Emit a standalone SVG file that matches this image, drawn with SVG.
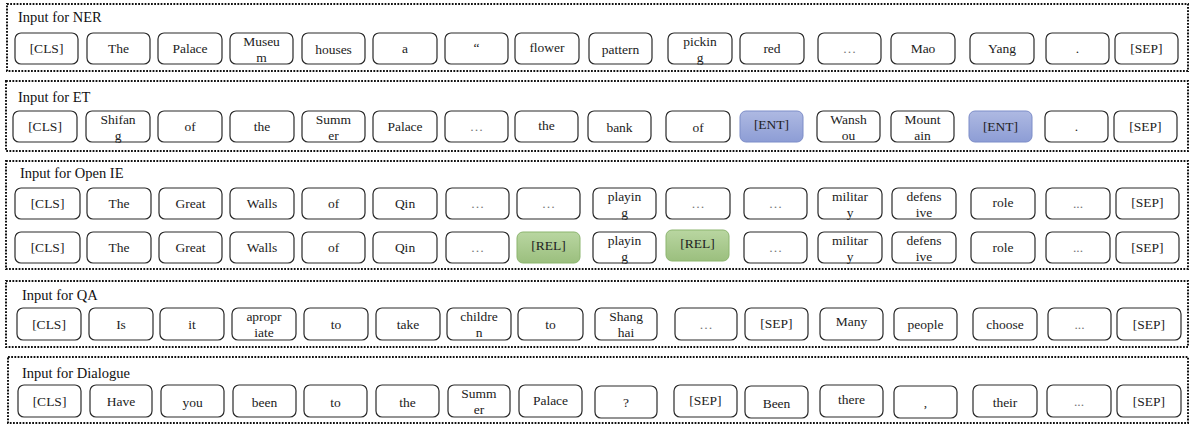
<svg xmlns="http://www.w3.org/2000/svg" width="1192" height="425" viewBox="0 0 1192 425">
<defs>
<linearGradient id="gEnt" x1="0" y1="0" x2="0" y2="1"><stop offset="0" stop-color="#aeb9e2"/><stop offset="1" stop-color="#8d9dd5"/></linearGradient>
<linearGradient id="gRel" x1="0" y1="0" x2="0" y2="1"><stop offset="0" stop-color="#b9d6a1"/><stop offset="1" stop-color="#9bbf7e"/></linearGradient>
<style>
.panel{fill:none;stroke:#111;stroke-width:2;stroke-dasharray:1.8 1.4}
.title{font-family:"Liberation Serif","Times New Roman",Tinos,"DejaVu Serif","Noto Serif",serif;font-size:14.5px;fill:#111}
.b{fill:#fff;stroke:#2a2a2a;stroke-width:1.2}
.ent{fill:url(#gEnt);stroke:#7d8dc8;stroke-width:1}
.rel{fill:url(#gRel);stroke:#8cb56f;stroke-width:1}
.t{font-family:"Liberation Serif","Times New Roman",Tinos,"DejaVu Serif","Noto Serif",serif;font-size:13.5px;fill:#222;text-anchor:middle}
.d{fill:#777}
</style>
</defs>
<g id="panels">
<rect id="panel-ner" class="panel" x="7" y="4" width="1181" height="67"/>
<rect id="panel-et" class="panel" x="6" y="81" width="1182" height="70"/>
<rect id="panel-openie" class="panel" x="6" y="161" width="1182" height="108"/>
<rect id="panel-qa" class="panel" x="6" y="281" width="1182" height="66"/>
<rect id="panel-dialogue" class="panel" x="8" y="357" width="1180" height="66"/>
<text class="title" x="18" y="22">Input for NER</text>
<text class="title" x="18" y="102">Input for ET</text>
<text class="title" x="20" y="178">Input for Open IE</text>
<text class="title" x="22" y="300">Input for QA</text>
<text class="title" x="22" y="378">Input for Dialogue</text>
</g>
<g id="connectors"></g>

<g id="ner">
<g id="ner1"><rect class="b" x="15" y="33" width="63" height="31" rx="6"/><text class="t" x="46.5" y="53">[CLS]</text></g>
<g id="ner2"><rect class="b" x="87" y="33" width="63" height="31" rx="6"/><text class="t" x="118.5" y="53">The</text></g>
<g id="ner3"><rect class="b" x="158" y="33" width="64" height="31" rx="6"/><text class="t" x="190" y="53">Palace</text></g>
<g id="ner4"><rect class="b" x="230" y="33" width="63" height="31" rx="6"/><text class="t" x="261.5" y="46">Museu</text><text class="t" x="261.5" y="62">m</text></g>
<g id="ner5"><rect class="b" x="302" y="33" width="63" height="31" rx="6"/><text class="t" x="333.5" y="54">houses</text></g>
<g id="ner6"><rect class="b" x="373" y="33" width="64" height="31" rx="6"/><text class="t" x="405" y="53">a</text></g>
<g id="ner7"><rect class="b" x="445" y="33" width="63" height="31" rx="6"/><text class="t" x="476.5" y="52">“</text></g>
<g id="ner8"><rect class="b" x="515" y="33" width="64" height="31" rx="6"/><text class="t" x="547" y="52">flower</text></g>
<g id="ner9"><rect class="b" x="589" y="33" width="63" height="31" rx="6"/><text class="t" x="620.5" y="54">pattern</text></g>
<g id="ner10"><rect class="b" x="668" y="33" width="64" height="31" rx="6"/><text class="t" x="700" y="46">pickin</text><text class="t" x="700" y="62">g</text></g>
<g id="ner11"><rect class="b" x="740" y="33" width="64" height="31" rx="6"/><text class="t" x="772" y="53">red</text></g>
<g id="ner12"><rect class="b" x="818" y="33" width="63" height="31" rx="6"/><text class="t d" x="849.5" y="53">…</text></g>
<g id="ner13"><rect class="b" x="891" y="33" width="64" height="31" rx="6"/><text class="t" x="923" y="53">Mao</text></g>
<g id="ner14"><rect class="b" x="970" y="33" width="64" height="31" rx="6"/><text class="t" x="1002" y="53">Yang</text></g>
<g id="ner15"><rect class="b" x="1046" y="33" width="63" height="31" rx="6"/><text class="t" x="1077.5" y="53">.</text></g>
<g id="ner16"><rect class="b" x="1115" y="33" width="63" height="31" rx="6"/><text class="t" x="1146.5" y="53">[SEP]</text></g>
</g>

<g id="et">
<g id="et1"><rect class="b" x="13" y="111" width="64" height="31" rx="6"/><text class="t" x="45" y="131">[CLS]</text></g>
<g id="et2"><rect class="b" x="86" y="111" width="64" height="31" rx="6"/><text class="t" x="118" y="124">Shifan</text><text class="t" x="118" y="140">g</text></g>
<g id="et3"><rect class="b" x="158" y="111" width="64" height="31" rx="6"/><text class="t" x="190" y="131">of</text></g>
<g id="et4"><rect class="b" x="230" y="111" width="64" height="31" rx="6"/><text class="t" x="262" y="131">the</text></g>
<g id="et5"><rect class="b" x="302" y="111" width="63" height="31" rx="6"/><text class="t" x="333.5" y="124">Summ</text><text class="t" x="333.5" y="140">er</text></g>
<g id="et6"><rect class="b" x="373" y="111" width="64" height="31" rx="6"/><text class="t" x="405" y="131">Palace</text></g>
<g id="et7"><rect class="b" x="445" y="111" width="63" height="31" rx="6"/><text class="t d" x="476.5" y="131">…</text></g>
<g id="et8"><rect class="b" x="515" y="111" width="63" height="31" rx="6"/><text class="t" x="546.5" y="130">the</text></g>
<g id="et9"><rect class="b" x="588" y="111" width="63" height="31" rx="6"/><text class="t" x="619.5" y="132">bank</text></g>
<g id="et10"><rect class="b" x="666" y="111" width="64" height="31" rx="6"/><text class="t" x="698" y="132">of</text></g>
<g id="et11"><rect class="ent" x="740" y="111" width="63" height="31" rx="6"/><text class="t" x="771.5" y="129">[ENT]</text></g>
<g id="et12"><rect class="b" x="817" y="111" width="63" height="31" rx="6"/><text class="t" x="848.5" y="124">Wansh</text><text class="t" x="848.5" y="140">ou</text></g>
<g id="et13"><rect class="b" x="891" y="111" width="63" height="31" rx="6"/><text class="t" x="922.5" y="124">Mount</text><text class="t" x="922.5" y="140">ain</text></g>
<g id="et14"><rect class="ent" x="969" y="111" width="63" height="31" rx="6"/><text class="t" x="1000.5" y="131">[ENT]</text></g>
<g id="et15"><rect class="b" x="1045" y="111" width="63" height="31" rx="6"/><text class="t" x="1076.5" y="131">.</text></g>
<g id="et16"><rect class="b" x="1114" y="111" width="63" height="31" rx="6"/><text class="t" x="1145.5" y="131">[SEP]</text></g>
</g>

<g id="oie1">
<g id="oie1-1"><rect class="b" x="15" y="188" width="65" height="31" rx="6"/><text class="t" x="47.5" y="208">[CLS]</text></g>
<g id="oie1-2"><rect class="b" x="87" y="188" width="64" height="31" rx="6"/><text class="t" x="119" y="208">The</text></g>
<g id="oie1-3"><rect class="b" x="159" y="188" width="63" height="31" rx="6"/><text class="t" x="190.5" y="208">Great</text></g>
<g id="oie1-4"><rect class="b" x="230" y="188" width="64" height="31" rx="6"/><text class="t" x="262" y="208">Walls</text></g>
<g id="oie1-5"><rect class="b" x="302" y="188" width="63" height="31" rx="6"/><text class="t" x="333.5" y="208">of</text></g>
<g id="oie1-6"><rect class="b" x="373" y="188" width="64" height="31" rx="6"/><text class="t" x="405" y="208">Qin</text></g>
<g id="oie1-7"><rect class="b" x="446" y="188" width="63" height="31" rx="6"/><text class="t d" x="477.5" y="208">…</text></g>
<g id="oie1-8"><rect class="b" x="517" y="188" width="63" height="31" rx="6"/><text class="t d" x="548.5" y="208">…</text></g>
<g id="oie1-9"><rect class="b" x="593" y="188" width="63" height="31" rx="6"/><text class="t" x="624.5" y="201">playin</text><text class="t" x="624.5" y="217">g</text></g>
<g id="oie1-10"><rect class="b" x="666" y="188" width="64" height="31" rx="6"/><text class="t d" x="698" y="208">…</text></g>
<g id="oie1-11"><rect class="b" x="744" y="188" width="63" height="31" rx="6"/><text class="t d" x="775.5" y="208">…</text></g>
<g id="oie1-12"><rect class="b" x="818" y="188" width="64" height="31" rx="6"/><text class="t" x="850" y="201">militar</text><text class="t" x="850" y="217">y</text></g>
<g id="oie1-13"><rect class="b" x="892" y="188" width="64" height="31" rx="6"/><text class="t" x="924" y="201">defens</text><text class="t" x="924" y="217">ive</text></g>
<g id="oie1-14"><rect class="b" x="971" y="188" width="64" height="31" rx="6"/><text class="t" x="1003" y="207">role</text></g>
<g id="oie1-15"><rect class="b" x="1046" y="188" width="64" height="31" rx="6"/><text class="t d" x="1078" y="208">...</text></g>
<g id="oie1-16"><rect class="b" x="1116" y="188" width="63" height="31" rx="6"/><text class="t" x="1147.5" y="207">[SEP]</text></g>
</g>

<g id="oie2">
<g id="oie2-1"><rect class="b" x="15" y="232" width="65" height="31" rx="6"/><text class="t" x="47.5" y="252">[CLS]</text></g>
<g id="oie2-2"><rect class="b" x="87" y="232" width="64" height="31" rx="6"/><text class="t" x="119" y="252">The</text></g>
<g id="oie2-3"><rect class="b" x="159" y="232" width="63" height="31" rx="6"/><text class="t" x="190.5" y="252">Great</text></g>
<g id="oie2-4"><rect class="b" x="230" y="232" width="64" height="31" rx="6"/><text class="t" x="262" y="252">Walls</text></g>
<g id="oie2-5"><rect class="b" x="302" y="232" width="63" height="31" rx="6"/><text class="t" x="333.5" y="252">of</text></g>
<g id="oie2-6"><rect class="b" x="373" y="232" width="64" height="31" rx="6"/><text class="t" x="405" y="252">Qin</text></g>
<g id="oie2-7"><rect class="b" x="446" y="232" width="63" height="31" rx="6"/><text class="t d" x="477.5" y="252">…</text></g>
<g id="oie2-8"><rect class="rel" x="517" y="232" width="63" height="31" rx="6"/><text class="t" x="548.5" y="250">[REL]</text></g>
<g id="oie2-9"><rect class="b" x="593" y="232" width="63" height="31" rx="6"/><text class="t" x="624.5" y="245">playin</text><text class="t" x="624.5" y="261">g</text></g>
<g id="oie2-10"><rect class="rel" x="666" y="230" width="63" height="31" rx="6"/><text class="t" x="697.5" y="248">[REL]</text></g>
<g id="oie2-11"><rect class="b" x="744" y="232" width="63" height="31" rx="6"/><text class="t d" x="775.5" y="252">…</text></g>
<g id="oie2-12"><rect class="b" x="818" y="232" width="64" height="31" rx="6"/><text class="t" x="850" y="245">militar</text><text class="t" x="850" y="261">y</text></g>
<g id="oie2-13"><rect class="b" x="892" y="232" width="64" height="31" rx="6"/><text class="t" x="924" y="245">defens</text><text class="t" x="924" y="261">ive</text></g>
<g id="oie2-14"><rect class="b" x="971" y="232" width="64" height="31" rx="6"/><text class="t" x="1003" y="252">role</text></g>
<g id="oie2-15"><rect class="b" x="1046" y="232" width="64" height="31" rx="6"/><text class="t d" x="1078" y="252">...</text></g>
<g id="oie2-16"><rect class="b" x="1116" y="232" width="63" height="31" rx="6"/><text class="t" x="1147.5" y="252">[SEP]</text></g>
</g>

<g id="qa">
<g id="qa1"><rect class="b" x="17" y="308" width="64" height="32" rx="6"/><text class="t" x="49" y="329">[CLS]</text></g>
<g id="qa2"><rect class="b" x="89" y="308" width="64" height="32" rx="6"/><text class="t" x="121" y="329">Is</text></g>
<g id="qa3"><rect class="b" x="160" y="308" width="64" height="32" rx="6"/><text class="t" x="192" y="329">it</text></g>
<g id="qa4"><rect class="b" x="232" y="308" width="64" height="32" rx="6"/><text class="t" x="264" y="321">apropr</text><text class="t" x="264" y="337">iate</text></g>
<g id="qa5"><rect class="b" x="304" y="308" width="64" height="32" rx="6"/><text class="t" x="336" y="329">to</text></g>
<g id="qa6"><rect class="b" x="376" y="308" width="64" height="32" rx="6"/><text class="t" x="408" y="329">take</text></g>
<g id="qa7"><rect class="b" x="447" y="308" width="64" height="32" rx="6"/><text class="t" x="479" y="321">childre</text><text class="t" x="479" y="337">n</text></g>
<g id="qa8"><rect class="b" x="518" y="308" width="65" height="32" rx="6"/><text class="t" x="550.5" y="329">to</text></g>
<g id="qa9"><rect class="b" x="595" y="308" width="62" height="32" rx="6"/><text class="t" x="626" y="321">Shang</text><text class="t" x="626" y="337">hai</text></g>
<g id="qa10"><rect class="b" x="675" y="308" width="62" height="32" rx="6"/><text class="t d" x="706" y="329">…</text></g>
<g id="qa11"><rect class="b" x="745" y="308" width="63" height="32" rx="6"/><text class="t" x="776.5" y="328">[SEP]</text></g>
<g id="qa12"><rect class="b" x="820" y="308" width="63" height="32" rx="6"/><text class="t" x="851.5" y="326">Many</text></g>
<g id="qa13"><rect class="b" x="894" y="308" width="63" height="32" rx="6"/><text class="t" x="925.5" y="329">people</text></g>
<g id="qa14"><rect class="b" x="973" y="308" width="64" height="32" rx="6"/><text class="t" x="1005" y="329">choose</text></g>
<g id="qa15"><rect class="b" x="1048" y="308" width="63" height="32" rx="6"/><text class="t d" x="1079.5" y="329">...</text></g>
<g id="qa16"><rect class="b" x="1117" y="308" width="64" height="32" rx="6"/><text class="t" x="1149" y="329">[SEP]</text></g>
</g>

<g id="dlg">
<g id="dlg1"><rect class="b" x="18" y="385" width="63" height="32" rx="6"/><text class="t" x="49.5" y="406">[CLS]</text></g>
<g id="dlg2"><rect class="b" x="90" y="385" width="62" height="32" rx="6"/><text class="t" x="121" y="406">Have</text></g>
<g id="dlg3"><rect class="b" x="161" y="385" width="63" height="32" rx="6"/><text class="t" x="192.5" y="407">you</text></g>
<g id="dlg4"><rect class="b" x="233" y="385" width="63" height="32" rx="6"/><text class="t" x="264.5" y="407">been</text></g>
<g id="dlg5"><rect class="b" x="304" y="385" width="63" height="32" rx="6"/><text class="t" x="335.5" y="407">to</text></g>
<g id="dlg6"><rect class="b" x="376" y="385" width="63" height="32" rx="6"/><text class="t" x="407.5" y="407">the</text></g>
<g id="dlg7"><rect class="b" x="448" y="385" width="62" height="32" rx="6"/><text class="t" x="479" y="398">Summ</text><text class="t" x="479" y="414">er</text></g>
<g id="dlg8"><rect class="b" x="519" y="385" width="63" height="32" rx="6"/><text class="t" x="550.5" y="405">Palace</text></g>
<g id="dlg9"><rect class="b" x="595" y="386" width="62" height="32" rx="6"/><text class="t" x="626" y="407">?</text></g>
<g id="dlg10"><rect class="b" x="674" y="385" width="63" height="32" rx="6"/><text class="t" x="705.5" y="405">[SEP]</text></g>
<g id="dlg11"><rect class="b" x="745" y="386" width="63" height="32" rx="6"/><text class="t" x="776.5" y="408">Been</text></g>
<g id="dlg12"><rect class="b" x="820" y="385" width="63" height="32" rx="6"/><text class="t" x="851.5" y="404">there</text></g>
<g id="dlg13"><rect class="b" x="894" y="386" width="63" height="32" rx="6"/><text class="t" x="925.5" y="407">,</text></g>
<g id="dlg14"><rect class="b" x="973" y="385" width="64" height="32" rx="6"/><text class="t" x="1005" y="407">their</text></g>
<g id="dlg15"><rect class="b" x="1047" y="385" width="64" height="32" rx="6"/><text class="t d" x="1079" y="406">...</text></g>
<g id="dlg16"><rect class="b" x="1117" y="385" width="64" height="32" rx="6"/><text class="t" x="1149" y="406">[SEP]</text></g>
</g>
</svg>
